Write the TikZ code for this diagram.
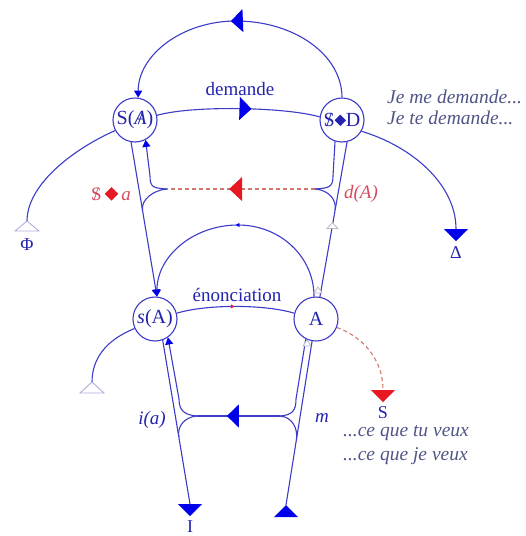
\documentclass[tikz,border=0pt]{standalone}
\usepackage{fontspec}
\setmainfont{Liberation Serif}
\usetikzlibrary{arrows.meta,decorations.markings,calc}
\definecolor{lineblue}{RGB}{60,60,200}
\definecolor{arrowblue}{RGB}{0,0,235}
\definecolor{textblue}{RGB}{35,35,175}
\definecolor{greytext}{RGB}{80,85,135}
\definecolor{redarrow}{RGB}{230,25,35}
\definecolor{redtext}{RGB}{215,75,95}
\definecolor{reddash}{RGB}{210,120,110}
\definecolor{lav}{RGB}{175,175,225}
\definecolor{greytri}{RGB}{185,185,195}
\newcommand\myBarS{\ooalign{S\cr\hidewidth/\hidewidth\cr}}
\newcommand\myBarA{\ooalign{{\itshape A}\cr\hidewidth/\hidewidth\cr}}
\newcommand\myDia{\raisebox{0.03em}{\rotatebox{45}{\rule{0.4em}{0.4em}}}}
\newcommand\myBigDia{\raisebox{0.0em}{\rotatebox{45}{\rule{0.5em}{0.5em}}}}
\tikzset{
  bigtri/.tip={Triangle[length=12pt,width=23pt,color=arrowblue]},
  redtri/.tip={Triangle[length=13pt,width=24pt,color=redarrow]},
  smalltri/.tip={Triangle[length=7pt,width=8pt,color=arrowblue]},
  tinytri/.tip={Triangle[length=3.5pt,width=4pt,color=arrowblue]},
  tinyred/.tip={Triangle[length=3.5pt,width=4pt,color=redarrow]},
  ln/.style={draw=lineblue,line width=1.1pt},
  dashln/.style={draw=reddash,line width=1.1pt,dash pattern=on 4pt off 3pt},
  markat/.style 2 args={postaction={decorate},decoration={markings,mark=at position #1 with {\arrow{#2}}}},
  circ/.style={circle,draw=lineblue,line width=1.1pt,minimum size=44pt,inner sep=0pt,text=textblue,font=\fontsize{20}{22}\selectfont},
  lbl/.style={text=textblue,font=\fontsize{19}{21}\selectfont,inner sep=0pt},
  smalllbl/.style={text=textblue,font=\fontsize{18}{20}\selectfont,inner sep=0pt},
  greyit/.style={text=greytext,font=\fontsize{19.5}{21}\selectfont\itshape,inner sep=0pt,anchor=west},
  bluetri/.style={fill=arrowblue},
  opentri/.style={fill=white,draw=lav,line width=0.9pt},
  greyopen/.style={fill=white,draw=greytri,line width=0.8pt}
}
\begin{document}
\begin{tikzpicture}[x=1pt,y=-1pt]
\useasboundingbox[fill=white] (0,0) rectangle (526,536);
% circles
\node[circ] (SA) at (135,120) {S(\myBarA)};
\node[circ] (SD) at (342,120) {\myBarS\myDia D};
\node[circ] (sA) at (155,319) {\textit{s}(A)};
\node[circ] (A) at (316,319) {A};
% coordinates
\coordinate (topPk) at (236,21);
\coordinate (archPk) at (238,225);
\coordinate (jl1) at (167,189);
\coordinate (jr1) at (315,189);
\coordinate (bl1) at (150,176);
\coordinate (br1) at (333,176);
\coordinate (jl2) at (197,416);
\coordinate (jr2) at (280,416);
\coordinate (bl2) at (179,399);
\coordinate (br2) at (296,399);
\coordinate (phiEnd) at (27,221);
\coordinate (deltaTop) at (456,229);
\coordinate (iTop) at (190,504);
\coordinate (mTop) at (286,505);
\coordinate (llEnd) at (92,382);
\coordinate (sTop) at (383,390);
\coordinate (ml1) at ($(SA.-100)!0.44!(sA.85)$);
\coordinate (mr1) at ($(A.80)!0.56!(SD.-77)$);
\coordinate (ml2) at ($(sA.-70)!0.59!(iTop)$);
\coordinate (mr2) at ($(A.-100)!0.6!(mTop)$);
\coordinate (gmid) at ($(A.80)!0.46!(SD.-77)$);
% top arc
\draw[ln,-{smalltri},markat={0.53}{bigtri}] (SD.90) .. controls +(0,-42.5) and +(58.5,0) .. (topPk) .. controls +(-54,0) and +(0,-42.5) .. (SA.82);
% demande
\draw[ln,markat={0.58}{bigtri}] (SA.12) .. controls +(35,-10) and +(-35,-10) .. (SD.172);
% Phi and Delta
\draw[ln] (SA.-152) .. controls +(-45,20) and +(0,-35) .. (phiEnd);
\draw[ln] (SD.-30) .. controls +(50,15) and +(0,-45) .. (deltaTop);
% upper main lines
\draw[ln,-{smalltri}] (SA.-100) -- (sA.85);
\draw[ln] (A.80) -- (SD.-77);
% upper junctions
\draw[ln,-{smalltri}] (jl1) .. controls +(-13,-1) and +(0,12) .. (bl1) -- (SA.-62);
\draw[ln] (jl1) .. controls +(-14,1) and +(-1.6,-10) .. (ml1);
\draw[ln] (jr1) .. controls +(13,-1) and +(0,12) .. (br1) -- (SD.-108);
\draw[ln] (jr1) .. controls +(14,1) and +(1.7,-10) .. (mr1);
\draw[dashln,markat={0.58}{redtri}] (jr1) -- (jl1);
% middle arch
\draw[ln,-{smalltri},markat={0.5}{tinytri}] (A.95) .. controls +(0,-40) and +(42,0) .. (archPk) .. controls +(-45,0) and +(0,-40) .. (sA.85);
% enonciation
\draw[ln,markat={0.49}{tinyred}] (sA.15) .. controls +(30,-9) and +(-30,-9) .. (A.165);
% lower side curves
\draw[ln] (sA.-155) .. controls +(-30,12) and +(0,-22) .. (llEnd);
\draw[dashln] (A.-22) .. controls +(27,10) and +(0,-30) .. (sTop);
% lower main lines
\draw[ln] (sA.-70) -- (iTop);
\draw[ln] (A.-100) -- (mTop);
% lower junctions
\draw[ln,-{smalltri}] (jl2) .. controls +(-12,-1) and +(0,12) .. (bl2) -- (sA.-55);
\draw[ln] (jl2) .. controls +(-13,1) and +(-1.7,-10) .. (ml2);
\draw[ln] (jr2) .. controls +(12,-1) and +(0,12) .. (br2) -- (A.-117);
\draw[ln] (jr2) .. controls +(13,1) and +(1.6,-10) .. (mr2);
\draw[ln,markat={0.64}{bigtri}] (jr2) -- (jl2);
% end triangles
\fill[bluetri] (178,504) -- (202,504) -- (190,516) -- cycle;
\fill[bluetri] (274,517) -- (298,517) -- (286,505) -- cycle;
\fill[bluetri] (444,229) -- (468,229) -- (456,241) -- cycle;
\fill[redarrow] (371,390) -- (395,390) -- (383,402) -- cycle;
\filldraw[opentri] (15,231) -- (39,231) -- (27,221) -- cycle;
\filldraw[opentri] (80,393) -- (104,393) -- (92,382) -- cycle;
% grey small triangles
\filldraw[greyopen] ($(gmid)+(-5.5,3)$) -- ($(gmid)+(5.5,3)$) -- ($(gmid)+(0,-3)$) -- cycle;
\filldraw[greyopen] (314,293) -- (322,293) -- (318,287) -- cycle;
\filldraw[greyopen] (303,346) -- (311,346) -- (307,340) -- cycle;
% labels
\node[lbl] (ldem) at (240,89) {demande};
\node[lbl] (lenon) at (237,295) {énonciation};
\node[lbl,text=redtext] (lsa) at (111,194) {\myBarS\,{\color{redarrow}\myBigDia}\,\textit{a}};
\node[lbl,text=redtext] (lda) at (361,194) {\itshape d(A)};
\node[lbl] (lia) at (152,420) {\itshape i(a)};
\node[lbl] (lm) at (322,418) {\itshape m};
\node[smalllbl] (lphi) at (27,245) {Φ};
\node[smalllbl] (ldelta) at (456,253) {Δ};
\node[smalllbl] (lI) at (190,527) {I};
\node[smalllbl] (lS) at (383,413) {S};
\node[greyit] (t1) at (387,97) {Je me demande...};
\node[greyit] (t2) at (387,118) {Je te demande...};
\node[greyit] (t3) at (343,433) {...ce que tu veux};
\node[greyit] (t4) at (343,456) {...ce que je veux};
\end{tikzpicture}
\end{document}
